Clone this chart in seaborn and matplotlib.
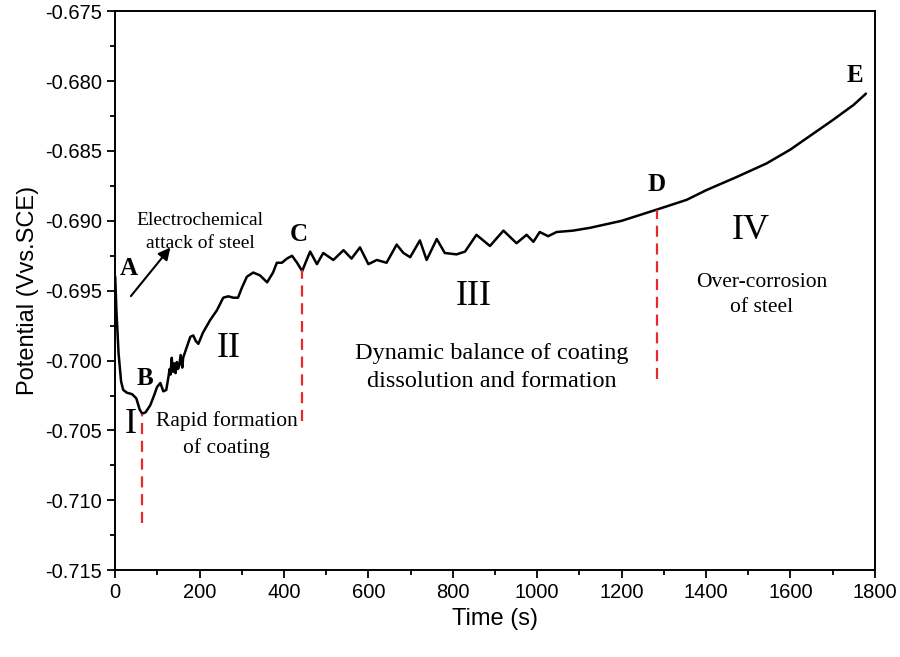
import numpy as np
import pandas as pd
import seaborn as sns
import matplotlib
matplotlib.use("Agg")
import matplotlib.pyplot as plt
from matplotlib.ticker import MultipleLocator, FormatStrFormatter

# open circuit potential vs time
time_s = [0, 3, 8, 14, 19, 28, 40, 50, 58, 64, 72, 83, 92, 99, 107, 114, 121,
          126, 129, 131, 134, 137, 140, 143, 146, 149, 152, 155, 159, 161,
          170, 178, 185, 191, 197, 208, 225, 241, 256, 268, 280, 291, 300,
          312, 327, 343, 360, 374, 383, 395, 407, 419, 431, 443, 455, 462,
          478, 493, 517, 541, 560, 580, 600, 620, 643, 667, 683, 699, 722,
          738, 762, 781, 809, 829, 856, 888, 920, 951, 975, 991, 1006, 1026,
          1046, 1085, 1125, 1200, 1283, 1354, 1401, 1470, 1543, 1600, 1638,
          1700, 1750, 1779]
potential = [-0.6940, -0.6965, -0.6995, -0.7015, -0.7021, -0.7023, -0.7024,
             -0.7027, -0.7035, -0.7038, -0.7037, -0.7032, -0.7025, -0.7019,
             -0.7016, -0.7022, -0.7021,
             -0.7012, -0.7006, -0.7010, -0.6998, -0.7008, -0.7002, -0.7009,
             -0.7001, -0.7006, -0.7003, -0.6996, -0.7005, -0.6998,
             -0.6990, -0.6983, -0.6982, -0.6986, -0.6988, -0.6980, -0.6971,
             -0.6964, -0.6955, -0.6954, -0.6955, -0.6955, -0.6948, -0.6940,
             -0.6937, -0.6939, -0.6944, -0.6937, -0.6930, -0.6930, -0.6927,
             -0.6925, -0.6930, -0.6936, -0.6927, -0.6922, -0.6931, -0.6923,
             -0.6928, -0.6921, -0.6927, -0.6919, -0.6931, -0.6928, -0.6930,
             -0.6917, -0.6923, -0.6926, -0.6914, -0.6928, -0.6913, -0.6923,
             -0.6924, -0.6922, -0.6910, -0.6918, -0.6907, -0.6916, -0.6910,
             -0.6915, -0.6908, -0.6911, -0.6908, -0.6907, -0.6905, -0.6900,
             -0.6892, -0.6885, -0.6878, -0.6869, -0.6859, -0.6849, -0.6841,
             -0.6828, -0.6817, -0.6809]

# stage boundaries (red dashed lines): x, y bottom, y top
boundary_t = [64, 443, 1285]
boundary_lo = [-0.7116, -0.7043, -0.7013]
boundary_hi = [-0.7038, -0.6935, -0.6892]

point_labels = ["A", "B", "C", "D", "E"]
point_t = [31, 71, 436, 1283, 1752]
point_v = [-0.6934, -0.7013, -0.6910, -0.6874, -0.6796]

stage_labels = ["I", "II", "III", "IV"]
stage_t = [38, 268, 850, 1506]
stage_v = [-0.7046, -0.6991, -0.6954, -0.6907]

notes = ["Electrochemical\nattack of steel", "Rapid formation\nof coating",
         "Dynamic balance of coating\ndissolution and formation",
         "Over-corrosion\nof steel"]
note_t = [201, 264, 893, 1532]
note_v = [-0.6908, -0.7053, -0.7005, -0.6953]
note_size = [14, 15.5, 17.5, 15.5]

df = pd.DataFrame({"Time (s)": time_s, "Potential": potential})

sns.set_style("ticks")
plt.rcParams["font.family"] = ["Liberation Sans", "DejaVu Sans"]
plt.rcParams["text.color"] = "black"
plt.rcParams["axes.labelcolor"] = "black"
plt.rcParams["xtick.color"] = "black"
plt.rcParams["ytick.color"] = "black"
plt.rcParams["axes.edgecolor"] = "black"

fig = plt.figure(figsize=(9, 6.57), dpi=100)
ax = fig.add_axes([0.128, 0.132, 0.844, 0.851])

sns.lineplot(data=df, x="Time (s)", y="Potential", color="black", lw=1.8, ax=ax)

for t, lo, hi in zip(boundary_t, boundary_lo, boundary_hi):
    ax.plot([t, t], [lo, hi], color="#e8282b", ls=(0, (5, 3)), lw=1.6)

serif = ["Liberation Serif", "DejaVu Serif"]
for lab, t, v in zip(point_labels, point_t, point_v):
    ax.text(t, v, lab, family=serif, fontsize=18, fontweight="bold",
            ha="center", va="center")
for lab, t, v in zip(stage_labels, stage_t, stage_v):
    ax.text(t, v, lab, family=serif, fontsize=26, ha="center", va="center")
for lab, t, v, fs in zip(notes, note_t, note_v, note_size):
    ax.text(t, v, lab, family=serif, fontsize=fs, ha="center", va="center",
            linespacing=1.45)

ax.annotate("", xy=(135, -0.69175), xytext=(33, -0.69554),
            arrowprops=dict(arrowstyle="-|>", color="black", lw=1.5,
                            mutation_scale=18))

ax.set_xlim(0, 1800)
ax.set_ylim(-0.715, -0.675)
ax.xaxis.set_major_locator(MultipleLocator(200))
ax.xaxis.set_minor_locator(MultipleLocator(100))
ax.yaxis.set_major_locator(MultipleLocator(0.005))
ax.yaxis.set_minor_locator(MultipleLocator(0.0025))
ax.yaxis.set_major_formatter(FormatStrFormatter("%.3f"))
ax.tick_params(which="major", direction="out", length=6, width=1.3, labelsize=14.5)
ax.tick_params(which="minor", direction="out", length=3.5, width=1.3)
for s in ax.spines.values():
    s.set_linewidth(1.4)
    s.set_visible(True)

ax.set_xlabel("Time (s)", fontsize=17)
ax.set_ylabel("Potential (Vvs.SCE)", fontsize=17)

fig.savefig("out.png", dpi=100)
